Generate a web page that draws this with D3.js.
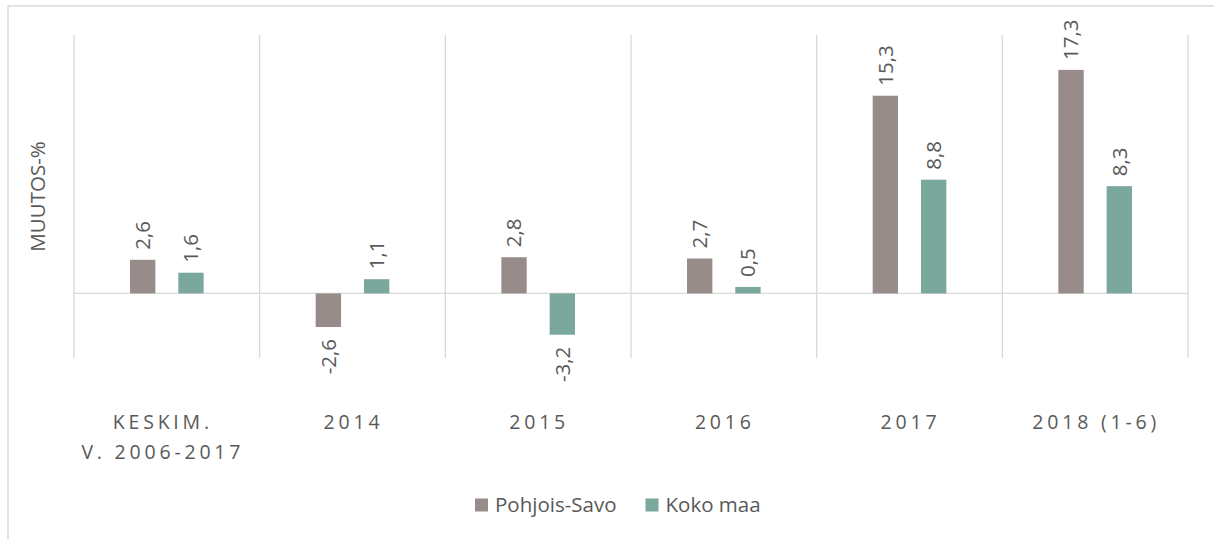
<!DOCTYPE html>
<html>
<head>
<meta charset="utf-8">
<script src="https://cdn.jsdelivr.net/npm/d3@7"></script>
<style>
  html, body { margin: 0; padding: 0; background: #fff; }
  svg { display: block; font-family: "Open Sans", sans-serif; }
</style>
</head>
<body>
<svg id="chart" width="1214" height="539"></svg>
<script>
const categories = ["KESKIM.\nV. 2006-2017", "2014", "2015", "2016", "2017", "2018 (1-6)"];
const seriesNames = ["Pohjois-Savo", "Koko maa"];
const pohjoisSavo = [2.6, -2.6, 2.8, 2.7, 15.3, 17.3];
const kokoMaa = [1.6, 1.1, -3.2, 0.5, 8.8, 8.3];
const seriesColors = ["#978C8A", "#7BA89C"];
const yDomain = [-5, 20];
const yAxisTitle = "MUUTOS-%";

const seriesValues = [pohjoisSavo, kokoMaa];
const data = categories.map((c, i) => ({
  cat: c,
  values: seriesNames.map((s, j) => ({ series: s, idx: j, value: seriesValues[j][i] }))
}));

const svg = d3.select("#chart");
const textColor = "#595959";
const gridColor = "#D9D9D9";

// outer frame
svg.append("rect")
  .attr("x", 8).attr("y", 6)
  .attr("width", 1240).attr("height", 560)
  .attr("fill", "none").attr("stroke", gridColor).attr("stroke-width", 1.5);

const plot = { left: 74, right: 1188, top: 35, bottom: 358 };

const x = d3.scaleBand().domain(categories).range([plot.left, plot.right]).padding(0);
const x1 = d3.scaleBand().domain(seriesNames).range([0, x.bandwidth()])
  .paddingInner(0.475).paddingOuter(1.16);
const y = d3.scaleLinear().domain(yDomain).range([plot.bottom, plot.top]);

const locale = d3.formatLocale({ decimal: ",", thousands: " ", grouping: [3], currency: ["", "€"], minus: "-" });
const fmt = locale.format(".1f");

// vertical gridlines at category boundaries
const bounds = categories.map(c => x(c)).concat([plot.right]);
svg.append("g").selectAll("line").data(bounds).join("line")
  .attr("x1", d => d).attr("x2", d => d)
  .attr("y1", plot.top).attr("y2", plot.bottom)
  .attr("stroke", gridColor).attr("stroke-width", 1.3);

// zero line (horizontal axis)
svg.append("line")
  .attr("x1", plot.left).attr("x2", plot.right)
  .attr("y1", y(0)).attr("y2", y(0))
  .attr("stroke", gridColor).attr("stroke-width", 1.3);

// bars
const groups = svg.append("g").selectAll("g").data(data).join("g")
  .attr("transform", d => `translate(${x(d.cat)},0)`);

groups.selectAll("rect").data(d => d.values).join("rect")
  .attr("x", d => x1(d.series))
  .attr("width", x1.bandwidth())
  .attr("y", d => y(Math.max(0, d.value)))
  .attr("height", d => Math.abs(y(d.value) - y(0)))
  .attr("fill", d => seriesColors[d.idx]);

// value labels (rotated)
groups.selectAll("text").data(d => d.values).join("text")
  .attr("transform", d => {
    const cx = x1(d.series) + x1.bandwidth() / 2;
    const yy = d.value >= 0 ? y(d.value) - 10 : y(d.value) + 12;
    return `translate(${cx},${yy}) rotate(-90)`;
  })
  .attr("text-anchor", d => d.value >= 0 ? "start" : "end")
  .attr("dy", "0.36em")
  .attr("font-size", 20.5)
  .attr("fill", textColor)
  .text(d => fmt(d.value));

// category labels
const catG = svg.append("g");
categories.forEach(c => {
  const lines = c.split("\n");
  const cx = x(c) + x.bandwidth() / 2 + (lines.length > 1 ? -4 : 1);
  const t = catG.append("text")
    .attr("x", cx)
    .attr("y", 429)
    .attr("text-anchor", "middle")
    .attr("font-size", 19.5)
    .attr("letter-spacing", 3.8)
    .attr("fill", textColor);
  lines.forEach((l, i) => {
    t.append("tspan")
      .attr("x", cx)
      .attr("dy", i === 0 ? 0 : 30)
      .text(l);
  });
});

// y-axis title
svg.append("text")
  .attr("transform", `translate(38,${(plot.top + plot.bottom) / 2}) rotate(-90)`)
  .attr("text-anchor", "middle")
  .attr("dy", "0.36em")
  .attr("font-size", 20.5)
  .attr("fill", textColor)
  .text(yAxisTitle);

// legend
const legend = svg.append("g");
let lx = 475;
seriesNames.forEach((s, i) => {
  legend.append("rect")
    .attr("x", lx).attr("y", 498.5)
    .attr("width", 13).attr("height", 13)
    .attr("fill", seriesColors[i]);
  const t = legend.append("text")
    .attr("x", lx + 20).attr("y", 512)
    .attr("font-size", 20.5)
    .attr("fill", textColor)
    .text(s);
  lx += 20 + t.node().getComputedTextLength() + 29;
});
</script>
</body>
</html>
